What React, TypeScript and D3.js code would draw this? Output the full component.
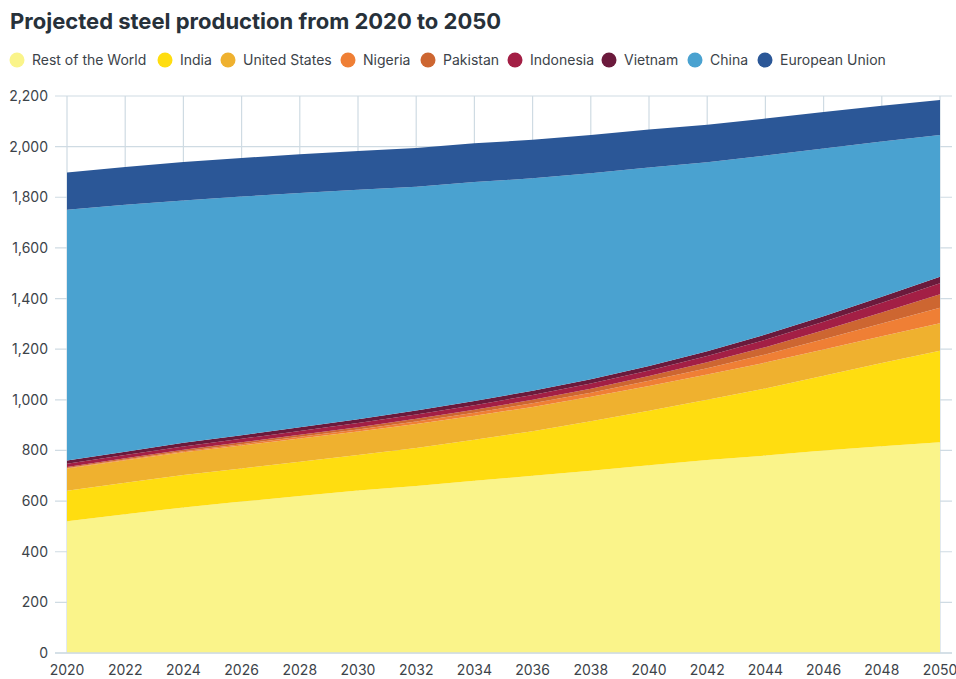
import React from "react";
import * as d3 from "d3";

const years = [2020, 2022, 2024, 2026, 2028, 2030, 2032, 2034, 2036, 2038, 2040, 2042, 2044, 2046, 2048, 2050];
const restOfWorld = [520, 548, 575, 598, 620, 642, 660, 680, 700, 720, 742, 762, 780, 800, 817, 832];
const india = [121, 124, 128, 131, 135, 140, 150, 162, 176, 195, 215, 238, 265, 295, 328, 362];
const unitedStates = [88, 89, 90, 91, 92, 93, 94, 95, 96, 97, 98, 100, 102, 104, 106, 108];
const nigeria = [2, 3, 4, 5, 7, 8, 10, 12, 14, 16, 20, 25, 32, 40, 50, 62];
const pakistan = [4, 5, 6, 7, 8, 9, 11, 12, 14, 16, 19, 23, 29, 36, 44, 53];
const indonesia = [12, 13, 13, 14, 15, 16, 17, 18, 19, 20, 22, 25, 29, 33, 38, 43];
const vietnam = [13, 13, 14, 14, 15, 15, 16, 16, 17, 17, 18, 19, 21, 22, 24, 26];
const china = [991, 975, 957, 943, 925, 907, 884, 865, 839, 814, 784, 746, 707, 663, 613, 560];
const europeanUnion = [147, 150, 152, 152, 153, 153, 153, 153, 152, 151, 150, 148, 146, 144, 141, 138];

const seriesNames = ["Rest of the World", "India", "United States", "Nigeria", "Pakistan", "Indonesia", "Vietnam", "China", "European Union"];
const seriesValues = [restOfWorld, india, unitedStates, nigeria, pakistan, indonesia, vietnam, china, europeanUnion];
const seriesColors = ["#faf48a", "#ffdd10", "#efb12f", "#ef7f35", "#cd6631", "#a31f45", "#6b1a3c", "#4aa2d0", "#2b5797"];
const yTicks = [0, 200, 400, 600, 800, 1000, 1200, 1400, 1600, 1800, 2000, 2200];
const xTicks = years;

const W = 956, H = 679;
const M = { left: 67, right: 940, top: 96, bottom: 653 };
const legendX = [17, 165, 228, 348, 428, 515, 609, 695, 765];

export default function App() {
  const x = d3.scaleLinear().domain([2020, 2050]).range([M.left, M.right]);
  const y = d3.scaleLinear().domain([0, 2200]).range([M.bottom, M.top]);
  const table = years.map((yr, i) => {
    const row: any = { year: yr };
    seriesNames.forEach((n, k) => (row[n] = seriesValues[k][i]));
    return row;
  });
  const stacked = d3.stack().keys(seriesNames)(table);
  const area = d3
    .area<any>()
    .x((d) => x(d.data.year))
    .y0((d) => y(d[0]))
    .y1((d) => y(d[1]));
  const fmt = d3.format(",");
  const font = "Inter, 'Noto Sans', sans-serif";
  const grid = "#cfdbe3";
  return (
    <svg width={W} height={H} style={{ position: "absolute", left: 0, top: 0, background: "#fff" }} fontFamily={font}>
      <text x={10} y={29} fontSize={22} fontWeight={700} fill="#27313a">
        Projected steel production from 2020 to 2050
      </text>
      {seriesNames.map((n, i) => (
        <g key={n}>
          <circle cx={legendX[i]} cy={60} r={7.5} fill={seriesColors[i]} />
          <text x={legendX[i] + 15} y={64.5} fontSize={14} fill="#3c4349">
            {n}
          </text>
        </g>
      ))}
      {yTicks.map((t) => (
        <line key={"h" + t} x1={55} x2={952} y1={y(t)} y2={y(t)} stroke={grid} strokeWidth={1.2} />
      ))}
      {xTicks.map((t) => (
        <line key={"v" + t} x1={x(t)} x2={x(t)} y1={M.top} y2={M.bottom} stroke={grid} strokeWidth={1.2} />
      ))}
      {stacked.map((s, i) => (
        <path key={s.key} d={area(s as any) || ""} fill={seriesColors[i]} />
      ))}
      <line x1={55} x2={952} y1={M.bottom} y2={M.bottom} stroke={grid} strokeWidth={1.5} />
      {yTicks.map((t) => (
        <text key={"yl" + t} x={48} y={y(t) + 5} textAnchor="end" fontSize={14} fill="#3c4349">
          {fmt(t)}
        </text>
      ))}
      {xTicks.map((t) => (
        <text key={"xl" + t} x={x(t)} y={675} textAnchor="middle" fontSize={14} fill="#3c4349">
          {t}
        </text>
      ))}
    </svg>
  );
}
